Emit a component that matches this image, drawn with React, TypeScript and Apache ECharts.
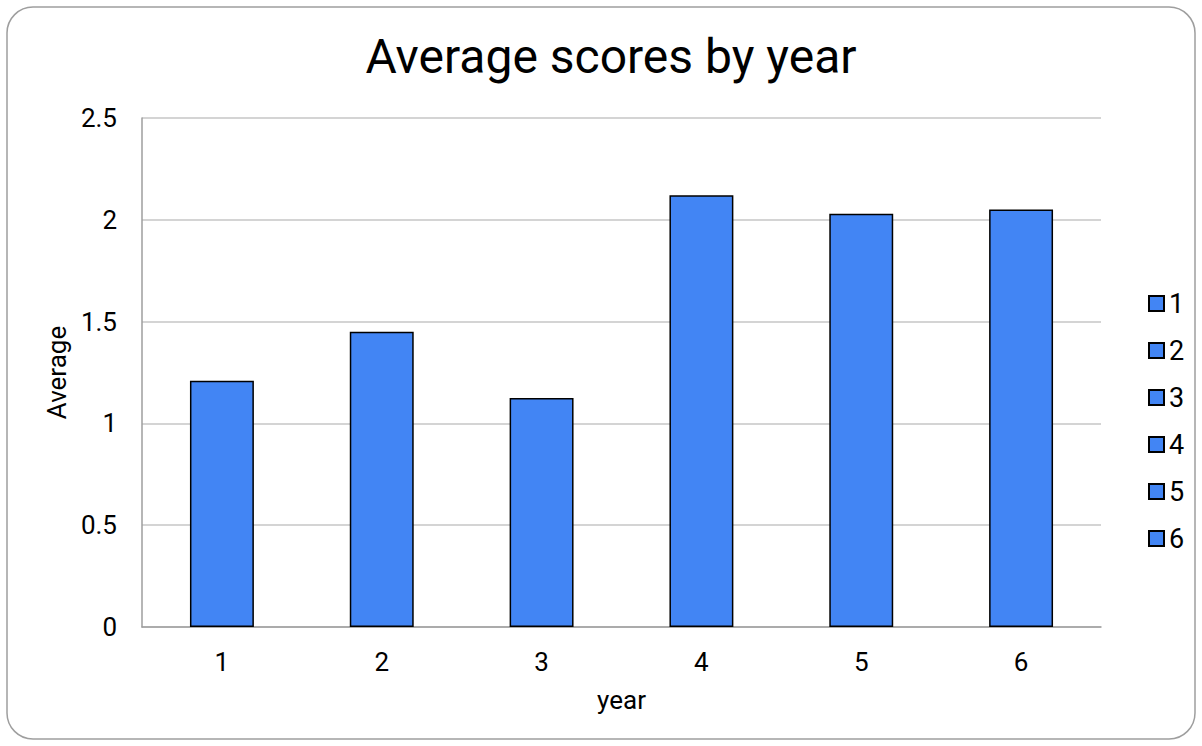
import React, { useEffect, useRef } from "react";
import * as echarts from "echarts";

const years = ["1", "2", "3", "4", "5", "6"];
const averages = [1.21, 1.45, 1.125, 2.12, 2.03, 2.05];
const yTicks = { min: 0, max: 2.5, interval: 0.5 };
const barColor = "#4285F4";

export default function App() {
  const ref = useRef<HTMLDivElement>(null);
  useEffect(() => {
    document.body.style.margin = "0";
    const chart = echarts.init(ref.current!, null, { renderer: "svg" });
    const series = years.map((y, i) => ({
      name: y,
      type: "bar",
      stack: "total",
      barWidth: "40%",
      data: averages.map((v, j) => (j === i ? v : "-")),
      itemStyle: { color: barColor, borderColor: "#000", borderWidth: 1.5 },
    }));
    chart.setOption({
      animation: false,
      textStyle: { fontFamily: "Roboto" },
      title: {
        text: "Average scores by year",
        left: 606,
        textAlign: "center",
        top: 27,
        textStyle: { fontSize: 48, fontWeight: "normal", color: "#000", fontFamily: "Roboto" },
      },
      graphic: [
        {
          type: "rect",
          shape: { x: 7, y: 7, width: 1188, height: 732, r: 26 },
          style: { fill: "none", stroke: "#9e9e9e", lineWidth: 1.5 },
          silent: true,
        },
      ],
      legend: {
        orient: "vertical",
        left: 1143,
        top: 285,
        itemGap: 20,
        itemWidth: 15,
        itemHeight: 15,
        itemTextGap: 6,
        icon: "rect",
        textStyle: { fontSize: 27, color: "#000", fontFamily: "Roboto" },
        data: years,
      },
      grid: { left: 142, right: 101, top: 118, bottom: 119 },
      xAxis: {
        type: "category",
        data: years,
        name: "year",
        nameLocation: "middle",
        nameGap: 60,
        nameTextStyle: { fontSize: 26, color: "#000" },
        axisLine: { lineStyle: { color: "#9e9e9e", width: 1.5 } },
        axisTick: { show: false },
        axisLabel: { fontSize: 26, color: "#000", margin: 22 },
      },
      yAxis: {
        type: "value",
        min: yTicks.min,
        max: yTicks.max,
        interval: yTicks.interval,
        name: "Average",
        nameLocation: "middle",
        nameGap: 72,
        nameTextStyle: { fontSize: 26, color: "#000" },
        axisLine: { show: true, lineStyle: { color: "#9e9e9e", width: 1.5 } },
        axisTick: { show: false },
        axisLabel: { fontSize: 26, color: "#000", margin: 25 },
        splitLine: { lineStyle: { color: "#c6c6c6", width: 1.5 } },
      },
      series,
    });
    return () => chart.dispose();
  }, []);
  return <div ref={ref} style={{ width: 1202, height: 746 }} />;
}
